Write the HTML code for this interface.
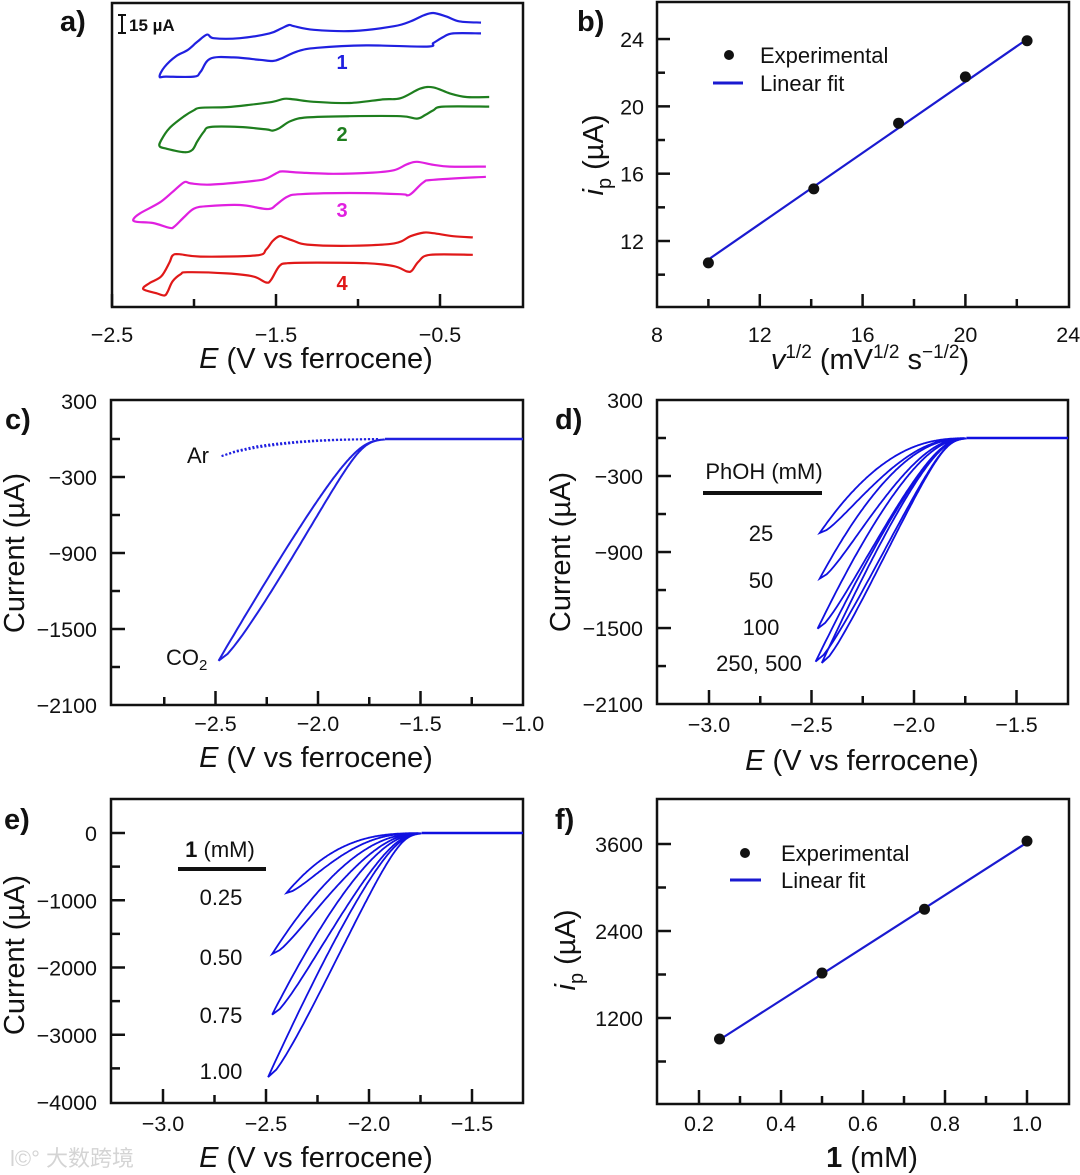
<!DOCTYPE html>
<html><head><meta charset="utf-8"><style>
html,body{margin:0;padding:0;background:#fff;}
svg{display:block;font-family:"Liberation Sans",Arial,sans-serif;}
.tk{font-size:21.5px;fill:#111;}
.at{font-size:29px;fill:#111;}
.pl{font-size:29px;font-weight:bold;fill:#111;}
.lg{font-size:22px;fill:#111;}
</style></head><body>
<svg id="fig" width="1080" height="1175" viewBox="0 0 1080 1175" xmlns="http://www.w3.org/2000/svg">
<rect x="0" y="0" width="1080" height="1175" fill="#fff"/>
<text class="pl" x="60" y="31">a)</text>
<text class="pl" x="577" y="31">b)</text>
<text class="pl" x="5" y="429">c)</text>
<text class="pl" x="555" y="429">d)</text>
<text class="pl" x="4" y="829">e)</text>
<text class="pl" x="555" y="829">f)</text>
<rect x="112" y="3" width="411" height="304" fill="none" stroke="#111" stroke-width="2.5"/>
<rect x="657" y="2" width="412" height="305" fill="none" stroke="#111" stroke-width="2.5"/>
<rect x="111" y="400" width="412" height="305" fill="none" stroke="#111" stroke-width="2.5"/>
<rect x="657" y="400" width="411" height="304" fill="none" stroke="#111" stroke-width="2.5"/>
<rect x="111" y="799" width="412" height="304" fill="none" stroke="#111" stroke-width="2.5"/>
<rect x="657" y="799" width="412" height="305" fill="none" stroke="#111" stroke-width="2.5"/>
<text class="at" x="316" y="368" text-anchor="middle"><tspan font-style="italic">E</tspan> (V vs ferrocene)</text>
<text class="at" x="870" y="369" text-anchor="middle"><tspan font-style="italic">v</tspan><tspan font-size="19" dy="-11">1/2</tspan><tspan dy="11"> (mV</tspan><tspan font-size="19" dy="-11">1/2</tspan><tspan dy="11"> s</tspan><tspan font-size="19" dy="-11">−1/2</tspan><tspan dy="11">)</tspan></text>
<text class="at" x="316" y="767" text-anchor="middle"><tspan font-style="italic">E</tspan> (V vs ferrocene)</text>
<text class="at" x="862" y="770" text-anchor="middle"><tspan font-style="italic">E</tspan> (V vs ferrocene)</text>
<text class="at" x="316" y="1167" text-anchor="middle"><tspan font-style="italic">E</tspan> (V vs ferrocene)</text>
<text class="at" x="872" y="1167" text-anchor="middle"><tspan font-weight="bold">1</tspan> (mM)</text>
<text class="at" transform="translate(603,155) rotate(-90)" text-anchor="middle"><tspan font-style="italic">i</tspan><tspan font-size="20" dy="8">p</tspan><tspan dy="-8"> (µA)</tspan></text>
<text class="at" transform="translate(24,553) rotate(-90)" text-anchor="middle">Current (µA)</text>
<text class="at" transform="translate(570,552) rotate(-90)" text-anchor="middle">Current (µA)</text>
<text class="at" transform="translate(24,955) rotate(-90)" text-anchor="middle">Current (µA)</text>
<text class="at" transform="translate(575,950) rotate(-90)" text-anchor="middle"><tspan font-style="italic">i</tspan><tspan font-size="20" dy="8">p</tspan><tspan dy="-8"> (µA)</tspan></text>
<g stroke="#111" stroke-width="2">
<line x1="122" y1="15" x2="122" y2="33"/><line x1="118" y1="15" x2="126" y2="15"/><line x1="118" y1="33" x2="126" y2="33"/>
</g>
<text x="129" y="31" font-size="17" font-weight="bold" fill="#111">15 µA</text>
<text x="342" y="69" font-size="20" font-weight="bold" fill="#2020e0" text-anchor="middle">1</text>
<text x="342" y="141" font-size="20" font-weight="bold" fill="#1e7e1e" text-anchor="middle">2</text>
<text x="342" y="217" font-size="20" font-weight="bold" fill="#e020e0" text-anchor="middle">3</text>
<text x="342" y="290" font-size="20" font-weight="bold" fill="#e01818" text-anchor="middle">4</text>
<circle cx="729" cy="55" r="5" fill="#111"/>
<text class="lg" x="760" y="63">Experimental</text>
<line x1="713" y1="83" x2="743" y2="83" stroke="#1a1ad0" stroke-width="3"/>
<text class="lg" x="760" y="91">Linear fit</text>
<circle cx="745" cy="853" r="5" fill="#111"/>
<text class="lg" x="781" y="861">Experimental</text>
<line x1="730" y1="880" x2="761" y2="880" stroke="#1a1ad0" stroke-width="3"/>
<text class="lg" x="781" y="888">Linear fit</text>
<text class="lg" x="187" y="463">Ar</text>
<text class="lg" x="166" y="665">CO<tspan font-size="15" dy="5">2</tspan></text>
<text class="lg" x="764" y="479" text-anchor="middle">PhOH (mM)</text>
<line x1="703" y1="493" x2="822" y2="493" stroke="#111" stroke-width="4"/>
<text class="lg" x="761" y="541" text-anchor="middle">25</text>
<text class="lg" x="761" y="588" text-anchor="middle">50</text>
<text class="lg" x="761" y="635" text-anchor="middle">100</text>
<text class="lg" x="759" y="671" text-anchor="middle">250, 500</text>
<text class="lg" x="220" y="857" text-anchor="middle"><tspan font-weight="bold">1</tspan> (mM)</text>
<line x1="178" y1="869" x2="266" y2="869" stroke="#111" stroke-width="4"/>
<text class="lg" x="221" y="905" text-anchor="middle">0.25</text>
<text class="lg" x="221" y="965" text-anchor="middle">0.50</text>
<text class="lg" x="221" y="1023" text-anchor="middle">0.75</text>
<text class="lg" x="221" y="1079" text-anchor="middle">1.00</text>
<text x="10" y="1166" font-size="22" fill="#d4d4d4" font-family="'Liberation Sans','Noto Sans CJK SC',sans-serif">l©° 大数跨境</text>
<g id="marks"></g>
</svg>
<script>
const c1E=[-0.25,-0.38,-0.46,-0.54,-0.60,-0.68,-0.78,-1.03,-1.27,-1.39,-1.42,-1.47,-1.54,-1.72,-1.88,-1.92,-1.98,-2.04,-2.11,-2.18,-2.21,-2.17,-2.00,-1.96,-1.90,-1.76,-1.60,-1.52,-1.47,-1.37,-1.25,-0.95,-0.58,-0.54,-0.48,-0.42,-0.25];
const c1I=[237,238,242,245,243,238,234,230,231,234,235,232,228,224,224,227,221,214,209,200,192,192,192,196,207,208,206,205,207,213,216,218,217,220,225,228,228];
const c2E=[-0.20,-0.34,-0.44,-0.54,-0.62,-0.74,-0.85,-1.05,-1.27,-1.39,-1.45,-1.52,-1.66,-1.80,-1.96,-2.00,-2.06,-2.15,-2.20,-2.21,-2.17,-2.06,-2.01,-1.98,-1.94,-1.90,-1.72,-1.56,-1.52,-1.48,-1.41,-1.31,-1.05,-0.74,-0.64,-0.59,-0.54,-0.48,-0.20];
const c2I=[175,175,178,183,182,174,173,170,171,173,173.5,171,168.5,166.6,166,164,159,149,139,134,132,129,131,138,146,150,150,148,147,149,155,158,159,159,157,160,164,167,167];
const c3E=[-0.22,-0.44,-0.54,-0.64,-0.70,-0.78,-0.91,-1.15,-1.35,-1.46,-1.49,-1.56,-1.64,-1.90,-2.02,-2.06,-2.13,-2.21,-2.33,-2.37,-2.35,-2.25,-2.15,-2.12,-2.06,-2.00,-1.92,-1.72,-1.58,-1.53,-1.50,-1.43,-1.35,-1.05,-0.74,-0.70,-0.67,-0.60,-0.54,-0.22];
const c3I=[117,117,118.5,121,119,114,112,111,112,113,112,107,105,102,103,104,96,87,78,73,71,70,66,67,75,82,84,85,82,82,85,92,94,95,94,93,95,104,106,108.5];
const c4E=[-0.30,-0.42,-0.54,-0.60,-0.68,-0.78,-1.05,-1.31,-1.39,-1.45,-1.48,-1.52,-1.56,-1.62,-1.96,-2.09,-2.13,-2.15,-2.20,-2.27,-2.31,-2.23,-2.18,-2.16,-2.13,-2.08,-2.04,-1.80,-1.64,-1.56,-1.53,-1.48,-1.43,-1.25,-0.95,-0.78,-0.70,-0.67,-0.63,-0.56,-0.30];
const c4I=[58,59,61.5,62,59,53,51,52,55,58,59,55,48,43,42,44,43,37,25.5,20,15,11.5,9.6,13,21.5,27.4,29,28,25.5,20.4,22.7,34,36.5,37,36.5,34,29.6,30.5,38,43.5,43.5];
const aTickMajor=[-2.5,-1.5,-0.5], aTickMinor=[-2.0,-1.0];
const aTickLabels=['−2.5','−1.5','−0.5'];

const bX=[10.0,14.1,17.4,20.0,22.4];
const bY=[10.7,15.1,19.0,21.75,23.9];
const bFitX=[10.0,22.5], bFitY=[10.9,24.1];
const bXMajor=[8,12,16,20,24], bXMinor=[10,14,18,22];
const bYMajor=[12,16,20,24], bYMinor=[10,14,18,22];

const cOnset=-1.86, cSwitch=-2.485, cPeak=-1750, cShape=1.1;
const arE=[-2.47,-2.40,-2.30,-2.20,-2.10,-2.00,-1.90,-1.80,-1.70];
const arFwd=[-135,-100,-68,-45,-28,-16,-8,-3,0];
const arRev=[-135,-95,-58,-36,-21,-11,-5,-2,0];
const cXMajor=[-2.5,-2.0,-1.5,-1.0], cXMinor=[-2.75,-2.25,-1.75,-1.25];
const cYMajor=[300,-300,-900,-1500,-2100], cYMinor=[0,-600,-1200,-1800];

const dConc=['25','50','100','250','500'];
const dPeak=[-750,-1110,-1505,-1765,-1775];
const dSwitch=[-2.46,-2.46,-2.47,-2.48,-2.45];
const dShape=[0.6,0.7,0.85,1.0,1.0];
const dOnset=-1.90;
const dXMajor=[-3.0,-2.5,-2.0,-1.5], dXMinor=[-2.75,-2.25,-1.75];

const eConc=['0.25','0.50','0.75','1.00'];
const ePeak=[-890,-1800,-2700,-3630];
const eSwitch=[-2.40,-2.47,-2.47,-2.49];
const eShape=[0.5,0.7,0.85,1.0];
const eOnset=-1.90;
const eYMajor=[0,-1000,-2000,-3000,-4000], eYMinor=[-500,-1500,-2500,-3500];

const fX=[0.25,0.50,0.75,1.00];
const fY=[910,1820,2700,3640];
const fFitX=[0.25,1.0], fFitY=[900,3620];
const fXMajor=[0.2,0.4,0.6,0.8,1.0], fXMinor=[0.3,0.5,0.7,0.9];
const fYMajor=[1200,2400,3600], fYMinor=[600,1800,3000];

const xA=E=>112+(E+2.5)*164, yA=I=>307-I*1.2;
const xB=v=>657+(v-8)*25.7, yB=i=>241-(i-12)*16.83;
const xC=E=>318+(E+2.0)*205, yC=I=>439-I*0.12667;
const xD=E=>914+(E+2.0)*205, yD=I=>438-I*0.1267;
const xE=E=>369+(E+2.0)*206, yE=I=>833-I*0.06725;
const xF=c=>699+(c-0.2)*410, yF=i=>1018-(i-1200)*0.0725;

const NS='http://www.w3.org/2000/svg';
const root=document.getElementById('marks');
function mk(tag,attrs,name){
  const el=document.createElementNS(NS,tag);
  for(const k in attrs) el.setAttribute(k,attrs[k]);
  
  
  root.appendChild(el);
  return el;
}
function txt(x,y,s,anchor,name){
  const t=mk('text',{x:x,y:y,'text-anchor':anchor,'class':'tk'},name);
  t.textContent=s;
  return t;
}
function fmt(v,d){return (v<0?'−':'')+Math.abs(v).toFixed(d);}
function xTicks(sc,vals,y0,len,name){vals.forEach(v=>mk('line',{x1:sc(v),x2:sc(v),y1:y0,y2:y0-len,stroke:'#111','stroke-width':2.5},name));}
function yTicks(sc,vals,x0,len,name){vals.forEach(v=>mk('line',{x1:x0,x2:x0+len,y1:sc(v),y2:sc(v),stroke:'#111','stroke-width':2.5},name));}
function smooth(pts){
  let d='M'+pts[0][0].toFixed(1)+','+pts[0][1].toFixed(1);
  for(let i=0;i<pts.length-1;i++){
    const p0=pts[Math.max(0,i-1)],p1=pts[i],p2=pts[i+1],p3=pts[Math.min(pts.length-1,i+2)];
    const c1=[p1[0]+(p2[0]-p0[0])/6,p1[1]+(p2[1]-p0[1])/6];
    const c2=[p2[0]-(p3[0]-p1[0])/6,p2[1]-(p3[1]-p1[1])/6];
    d+='C'+c1[0].toFixed(1)+','+c1[1].toFixed(1)+' '+c2[0].toFixed(1)+','+c2[1].toFixed(1)+' '+p2[0].toFixed(1)+','+p2[1].toFixed(1);
  }
  return d;
}
function polyD(pts){return 'M'+pts.map(p=>p[0].toFixed(1)+','+p[1].toFixed(1)).join('L');}
const V_MIN=0.002;
function loopPts(Eon,Esw,pk,p,sx,sy,tau){
  const span=Esw-Eon, N=200, fw=[], rv=[];
  for(let k=0;k<=N;k++){
    const v=V_MIN*Math.pow(1/V_MIN,k/N);
    const onset=-tau*Math.log(v);
    fw.push([sx(Eon+span*(0.75*Math.pow(v,p)+0.25*(1-Math.sqrt(Math.max(0,1-v))))+onset), sy(pk*v)]);
    rv.push([sx(Eon+span*Math.pow(v,0.88*p)+onset), sy(pk*v)]);
  }
  return fw.concat(rv.reverse());
}
function onsetE(Eon,tau){return Eon-tau*Math.log(V_MIN);}

txt(xA(-2.5),342,aTickLabels[0],'middle','a-x-tick-label');
txt(xA(-1.5),342,aTickLabels[1],'middle','a-x-tick-label');
txt(xA(-0.5),342,aTickLabels[2],'middle','a-x-tick-label');
xTicks(xA,aTickMajor,307,13,'a-x-major-tick');
xTicks(xA,aTickMinor,307,8,'a-x-minor-tick');
[[c1E,c1I,'#2020e0','cv-curve-1'],[c2E,c2I,'#1e7e1e','cv-curve-2'],[c3E,c3I,'#e020e0','cv-curve-3'],[c4E,c4I,'#e01818','cv-curve-4']].forEach(s=>{
  const pts=s[0].map((E,i)=>[xA(E),yA(s[1][i])]);
  mk('path',{d:smooth(pts),fill:'none',stroke:s[2],'stroke-width':2.2,'stroke-linejoin':'round'},s[3]);
});

bXMajor.forEach(v=>txt(xB(v),342,String(v),'middle','b-x-tick-label'));
bYMajor.forEach(v=>txt(644,yB(v)+8,String(v),'end','b-y-tick-label'));
xTicks(xB,bXMajor.slice(1,4),307,13,'b-x-major-tick');
xTicks(xB,bXMinor,307,8,'b-x-minor-tick');
yTicks(yB,bYMajor,657,13,'b-y-major-tick');
yTicks(yB,bYMinor,657,8,'b-y-minor-tick');
mk('line',{x1:xB(bFitX[0]),y1:yB(bFitY[0]),x2:xB(bFitX[1]),y2:yB(bFitY[1]),stroke:'#1a1ad0','stroke-width':2.2},'b-linear-fit');
bX.forEach((v,i)=>mk('circle',{cx:xB(v),cy:yB(bY[i]),r:5.5,fill:'#111'},'b-data-point'));

cXMajor.forEach(v=>txt(xC(v),731,fmt(v,1),'middle','c-x-tick-label'));
cYMajor.forEach(v=>txt(97,yC(v)+8,v>0?String(v):'−'+Math.abs(v),'end','c-y-tick-label'));
xTicks(xC,cXMajor.slice(0,3),705,14,'c-x-major-tick');
xTicks(xC,cXMinor,705,8,'c-x-minor-tick');
yTicks(yC,cYMajor.slice(1,4),111,14,'c-y-major-tick');
yTicks(yC,cYMinor,111,9,'c-y-minor-tick');
mk('path',{d:polyD(arE.map((E,i)=>[xC(E),yC(arFwd[i])])),fill:'none',stroke:'#2020e0','stroke-width':2,'stroke-dasharray':'2,2'},'ar-trace-forward');
mk('path',{d:polyD(arE.map((E,i)=>[xC(E),yC(arRev[i])])),fill:'none',stroke:'#2020e0','stroke-width':2,'stroke-dasharray':'2,2'},'ar-trace-reverse');
mk('line',{x1:xC(onsetE(cOnset,0.03)),y1:yC(0),x2:523,y2:yC(0),stroke:'#2020e0','stroke-width':2.5},'co2-baseline');
mk('path',{d:polyD(loopPts(cOnset,cSwitch,cPeak,cShape,xC,yC,0.03)),fill:'none',stroke:'#2020e0','stroke-width':2},'co2-cv-loop');

dXMajor.forEach(v=>txt(xD(v),732,fmt(v,1),'middle','d-x-tick-label'));
cYMajor.forEach(v=>txt(643,yD(v)+8,v>0?String(v):'−'+Math.abs(v),'end','d-y-tick-label'));
xTicks(xD,dXMajor,704,14,'d-x-major-tick');
xTicks(xD,dXMinor,704,8,'d-x-minor-tick');
yTicks(yD,cYMajor.slice(1,4),657,14,'d-y-major-tick');
yTicks(yD,cYMinor,657,9,'d-y-minor-tick');
mk('line',{x1:xD(onsetE(dOnset,0.025)),y1:yD(0),x2:1068,y2:yD(0),stroke:'#1010e0','stroke-width':2.5},'d-baseline');
dPeak.forEach((pk,i)=>{
  mk('path',{d:polyD(loopPts(dOnset,dSwitch[i],pk,dShape[i],xD,yD,0.025)),fill:'none',stroke:'#1010e0','stroke-width':1.8},'phoh-loop-'+dConc[i]);
});

dXMajor.forEach(v=>txt(xE(v),1131,fmt(v,1),'middle','e-x-tick-label'));
eYMajor.forEach(v=>txt(97,yE(v)+8,v===0?'0':'−'+Math.abs(v),'end','e-y-tick-label'));
xTicks(xE,dXMajor,1103,14,'e-x-major-tick');
xTicks(xE,dXMinor,1103,8,'e-x-minor-tick');
yTicks(yE,eYMajor.slice(0,4),111,14,'e-y-major-tick');
yTicks(yE,eYMinor,111,9,'e-y-minor-tick');
mk('line',{x1:xE(onsetE(eOnset,0.025)),y1:yE(0),x2:523,y2:yE(0),stroke:'#1010e0','stroke-width':2.5},'e-baseline');
ePeak.forEach((pk,i)=>{
  mk('path',{d:polyD(loopPts(eOnset,eSwitch[i],pk,eShape[i],xE,yE,0.025)),fill:'none',stroke:'#1010e0','stroke-width':1.8},'conc-loop-'+eConc[i]);
});

fXMajor.forEach(v=>txt(xF(v),1131,v.toFixed(1),'middle','f-x-tick-label'));
fYMajor.forEach(v=>txt(643,yF(v)+8,String(v),'end','f-y-tick-label'));
xTicks(xF,fXMajor,1104,14,'f-x-major-tick');
xTicks(xF,fXMinor,1104,8,'f-x-minor-tick');
yTicks(yF,fYMajor,657,14,'f-y-major-tick');
yTicks(yF,fYMinor,657,9,'f-y-minor-tick');
mk('line',{x1:xF(fFitX[0]),y1:yF(fFitY[0]),x2:xF(fFitX[1]),y2:yF(fFitY[1]),stroke:'#1a1ad0','stroke-width':2.2},'f-linear-fit');
fX.forEach((v,i)=>mk('circle',{cx:xF(v),cy:yF(fY[i]),r:5.5,fill:'#111'},'f-data-point'));
</script>
</body></html>
